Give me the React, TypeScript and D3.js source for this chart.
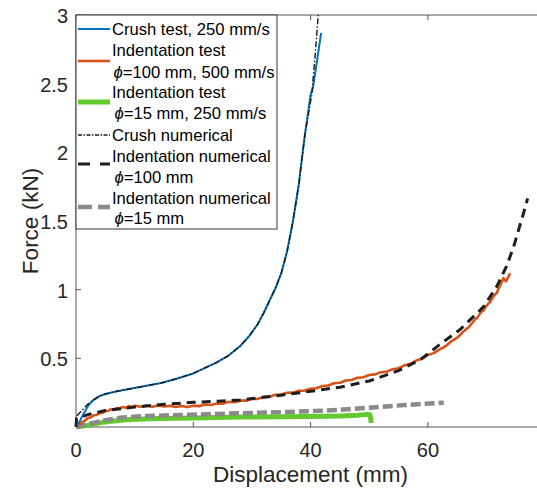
import React from "react";
import * as d3 from "d3";

type P = [number, number];

const xTicks = [0, 20, 40, 60];
const yTicks = [0.5, 1, 1.5, 2, 2.5, 3];

// Crush test, 250 mm/s
const crushTest: P[] = [
  [0, 0], [0.5, 0.03], [1.2, 0.09], [2, 0.15], [2.8, 0.19], [4, 0.225], [5, 0.24],
  [7, 0.26], [9.5, 0.28], [12, 0.3], [14.5, 0.32], [17, 0.35], [20, 0.39], [22, 0.43],
  [24, 0.47], [26, 0.52], [28, 0.59], [29.5, 0.66], [31, 0.75], [32, 0.83], [33, 0.92],
  [34, 1.01], [35, 1.12], [36, 1.28], [37, 1.5], [38, 1.77], [39, 2.12], [40, 2.42],
  [40.4, 2.47], [41.1, 2.67], [41.8, 2.87],
];

// Indentation test, phi=100 mm, 500 mm/s
const indent100Test: P[] = [
  [0, 0], [0.5, 0.015], [1, 0.035], [1.5, 0.045], [2, 0.065], [2.5, 0.07], [3, 0.085],
  [3.5, 0.088], [4, 0.1], [4.5, 0.103], [5, 0.115], [5.5, 0.118], [6, 0.13], [6.5, 0.128],
  [7, 0.138], [7.5, 0.135], [8, 0.146], [8.5, 0.14], [9, 0.152], [9.5, 0.145], [10, 0.155],
  [11, 0.147], [12, 0.156], [13, 0.148], [14, 0.157], [15, 0.149], [16, 0.155], [17, 0.146],
  [18, 0.153], [19, 0.145], [20, 0.155], [21, 0.152], [22, 0.164], [23, 0.16], [24, 0.172],
  [25, 0.17], [26, 0.183], [27, 0.18], [28, 0.192], [29, 0.192], [30, 0.204], [31, 0.205],
  [32, 0.219], [33, 0.22], [34, 0.235], [35, 0.236], [36, 0.249], [37, 0.25], [38, 0.264],
  [39, 0.265], [40, 0.279], [41, 0.282], [42, 0.299], [43, 0.302], [44, 0.319], [45, 0.322],
  [46, 0.339], [47, 0.342], [48, 0.359], [49, 0.362], [50, 0.379], [51, 0.383], [52, 0.399],
  [53, 0.403], [54, 0.42], [55, 0.428], [56, 0.449], [57, 0.46], [58, 0.484], [59, 0.497],
  [60, 0.524], [61, 0.538], [62, 0.565], [63, 0.588], [64, 0.624], [65, 0.65], [66, 0.693],
  [67, 0.728], [68, 0.782], [68.5, 0.8], [69, 0.833], [69.5, 0.85], [70, 0.884], [70.6, 0.91],
  [71.2, 0.953], [71.7, 0.975], [72.2, 1.02], [72.9, 1.085], [73.3, 1.06], [73.7, 1.09], [74, 1.12],
];

// Indentation test, phi=15 mm, 250 mm/s
const indent15Test: P[] = [
  [0, 0], [2, 0.012], [4, 0.03], [6, 0.042], [9, 0.055], [14, 0.062], [20, 0.066],
  [28, 0.072], [35, 0.075], [40, 0.077], [45, 0.08], [48, 0.085], [49.6, 0.092],
  [50.1, 0.09], [50.3, 0.05], [50.3, 0.03],
];

// Crush numerical
const crushNum: P[] = [
  [0, 0], [0.1, 0.08], [1, 0.12], [2, 0.165], [3, 0.2], [4, 0.225], [5, 0.24], [7, 0.26],
  [9.5, 0.28], [12, 0.3], [14.5, 0.32], [17, 0.35], [20, 0.39], [22, 0.43], [24, 0.47],
  [26, 0.52], [28, 0.59], [29.5, 0.66], [31, 0.75], [32, 0.83], [33, 0.92], [34, 1.01],
  [35, 1.12], [36, 1.28], [37, 1.5], [38, 1.77], [39, 2.12], [40.2, 2.42], [40.8, 2.72],
  [41.3, 3.0],
];

// Indentation numerical, phi=100 mm
const indent100Num: P[] = [
  [0, 0], [0.1, 0.06], [2, 0.09], [5, 0.12], [10, 0.145], [15, 0.165], [20, 0.18],
  [25, 0.19], [28, 0.197], [30, 0.207], [35, 0.232], [40, 0.26], [45, 0.29], [50, 0.335],
  [55, 0.41], [58.7, 0.49], [62, 0.6], [65.5, 0.71], [69.5, 0.876], [71.7, 1.02],
  [73.4, 1.17], [74.6, 1.31], [76.3, 1.556], [77, 1.665],
];

// Indentation numerical, phi=15 mm
const indent15Num: P[] = [
  [0, 0], [1, 0.01], [3, 0.03], [5, 0.05], [8, 0.07], [12, 0.08], [20, 0.09], [28, 0.1],
  [35, 0.108], [40, 0.115], [45, 0.125], [50, 0.14], [56, 0.16], [62.7, 0.177],
];

const W = 537;
const H = 488;
const font = "'Liberation Sans', Arial, sans-serif";

export default function App() {
  const x = d3.scaleLinear().domain([0, 80]).range([76, 545.2]);
  const y = d3.scaleLinear().domain([0, 3]).range([427, 15]);
  const line = d3
    .line<P>()
    .x((d) => x(d[0]))
    .y((d) => y(d[1]));

  const series = [
    { data: indent15Test, color: "#63C92F", w: 5, dash: undefined as string | undefined },
    { data: indent15Num, color: "#8A8A8A", w: 4.5, dash: "10 4" },
    { data: indent100Test, color: "#D95319", w: 2.6, dash: undefined },
    { data: indent100Num, color: "#1E1E1E", w: 3, dash: "9 6" },
    { data: crushTest, color: "#0072BD", w: 2, dash: undefined },
    { data: crushNum, color: "#1A1A1A", w: 1.4, dash: "6 2 1.5 2" },
  ];

  const axisColor = "#555";
  const legendRows = [
    { t: "Crush test, 250 mm/s", y: 29, x: 112, italic: false },
    { t: "Indentation test", y: 50.5, x: 112, italic: false },
    { t: "=100 mm, 500 mm/s", y: 72, x: 113.5, italic: true },
    { t: "Indentation test", y: 92, x: 112, italic: false },
    { t: "=15 mm, 250 mm/s", y: 113, x: 114.5, italic: true },
    { t: "Crush numerical", y: 135, x: 112, italic: false },
    { t: "Indentation numerical", y: 156, x: 112, italic: false },
    { t: "=100 mm", y: 177, x: 114.5, italic: true },
    { t: "Indentation numerical", y: 198, x: 112, italic: false },
    { t: "=15 mm", y: 218, x: 114.5, italic: true },
  ];
  const legendSamples = [
    { y: 29, color: "#0072BD", w: 2, dash: undefined as string | undefined },
    { y: 61, color: "#D95319", w: 2.6, dash: undefined },
    { y: 102, color: "#63C92F", w: 5, dash: undefined },
    { y: 135, color: "#1A1A1A", w: 1.4, dash: "4 1.5 1.5 1.5" },
    { y: 164, color: "#1E1E1E", w: 3, dash: "12 10" },
    { y: 207, color: "#8A8A8A", w: 4.5, dash: "14 6" },
  ];

  return (
    <svg
      width={W}
      height={H}
      style={{ position: "absolute", left: 0, top: 0, background: "#fff" }}
      fontFamily={font}
    >
      <defs>
        <clipPath id="plotClip">
          <rect x={74} y={15} width={W - 74} height={427 - 15 + 4} />
        </clipPath>
      </defs>
      <rect x={0} y={0} width={W} height={H} fill="#fff" />

      {/* axes box */}
      <line x1={76} y1={427} x2={W} y2={427} stroke={axisColor} strokeWidth={1} />
      <line x1={76} y1={15} x2={W} y2={15} stroke={axisColor} strokeWidth={1} />
      <line x1={76} y1={15} x2={76} y2={427} stroke={axisColor} strokeWidth={1} />

      {xTicks.map((t) => (
        <g key={"xt" + t}>
          <line x1={x(t)} x2={x(t)} y1={427} y2={422} stroke={axisColor} />
          <line x1={x(t)} x2={x(t)} y1={15} y2={20} stroke={axisColor} />
          <text x={x(t)} y={457} fontSize={20} textAnchor="middle" fill="#262626">
            {t}
          </text>
        </g>
      ))}
      {yTicks.map((t) => (
        <g key={"yt" + t}>
          <line x1={76} x2={81} y1={y(t)} y2={y(t)} stroke={axisColor} />
          <text x={68} y={y(t) + 8} fontSize={20} textAnchor="end" fill="#262626">
            {t}
          </text>
        </g>
      ))}

      <text x={310.5} y={482} fontSize={22.5} textAnchor="middle" fill="#262626">
        Displacement (mm)
      </text>
      <text
        transform={`translate(38,221) rotate(-90)`}
        fontSize={22.5}
        textAnchor="middle"
        fill="#262626"
      >
        Force (kN)
      </text>

      <g clipPath="url(#plotClip)">
        {series.map((s, i) => (
          <path
            key={i}
            d={line(s.data) || ""}
            fill="none"
            stroke={s.color}
            strokeWidth={s.w}
            strokeDasharray={s.dash}
            strokeLinejoin="round"
          />
        ))}
      </g>

      {/* legend */}
      <rect x={76} y={15} width={201} height={214} fill="#fff" stroke="#333" strokeWidth={1} />
      {legendSamples.map((s, i) => (
        <line
          key={"ls" + i}
          x1={78}
          x2={110}
          y1={s.y}
          y2={s.y}
          stroke={s.color}
          strokeWidth={s.w}
          strokeDasharray={s.dash}
        />
      ))}
      {legendRows.map((r, i) => (
        <text key={"lt" + i} x={r.x} y={r.y + 5.8} fontSize={16.6} fill="#000">
          {r.italic ? (
            <>
              <tspan fontStyle="italic">ϕ</tspan>
              {r.t}
            </>
          ) : (
            r.t
          )}
        </text>
      ))}
    </svg>
  );
}
